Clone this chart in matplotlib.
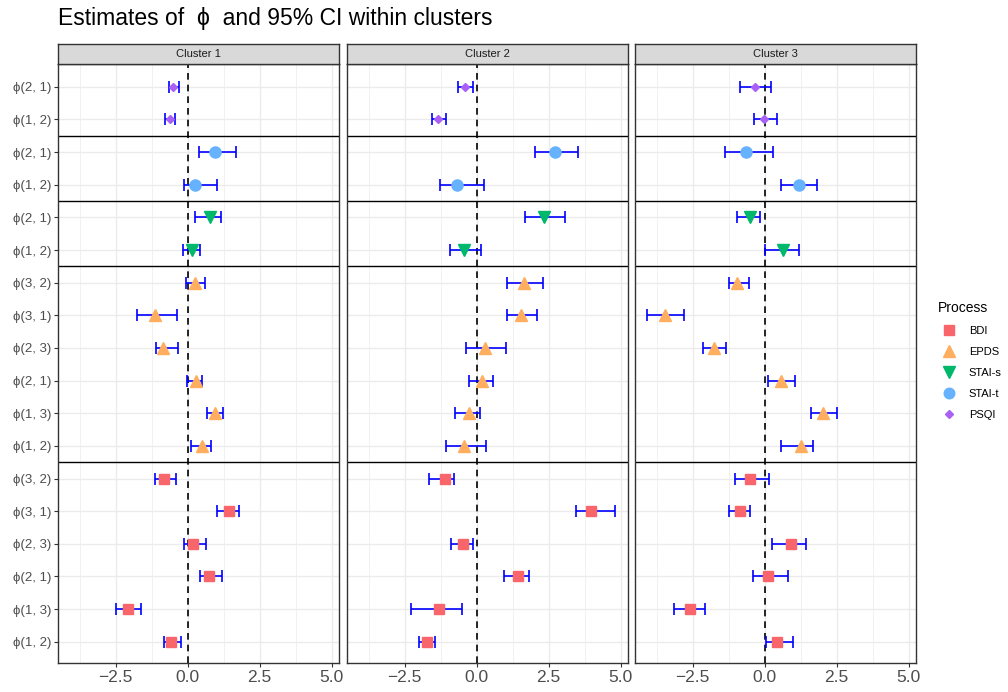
"""Forest plot of phi estimates with 95% CI, one panel per cluster."""
import numpy as np
import matplotlib
matplotlib.use("Agg")
import matplotlib.pyplot as plt
from matplotlib.lines import Line2D

plt.rcParams["font.family"] = ["Liberation Sans", "DejaVu Sans"]

CLUSTERS = ["Cluster 1", "Cluster 2", "Cluster 3"]
PROCESSES = ["BDI", "EPDS", "STAI-s", "STAI-t", "PSQI"]
COLORS = {"BDI": "#F8666B", "EPDS": "#FFAE5F", "STAI-s": "#00B86B",
          "STAI-t": "#66B2FF", "PSQI": "#AA60F5"}
MARKERS = {"BDI": ("s", 7.5), "EPDS": ("^", 8.5), "STAI-s": ("v", 8.5),
           "STAI-t": ("o", 8), "PSQI": ("D", 4.5)}

# row labels, bottom to top, per process
LABELS6 = ["ϕ(1, 2)", "ϕ(1, 3)", "ϕ(2, 1)", "ϕ(2, 3)", "ϕ(3, 1)", "ϕ(3, 2)"]
LABELS2 = ["ϕ(1, 2)", "ϕ(2, 1)"]
ROW_PROC = ["BDI"] * 6 + ["EPDS"] * 6 + ["STAI-s"] * 2 + ["STAI-t"] * 2 + ["PSQI"] * 2
ROW_LABELS = LABELS6 + LABELS6 + LABELS2 + LABELS2 + LABELS2

# estimates / lower / upper, same row order as ROW_LABELS
est_c1 = [-0.57, -2.06, 0.75, 0.20, 1.45, -0.81,
          0.49, 0.95, 0.30, -0.85, -1.15, 0.26,
          0.15, 0.79, 0.26, 0.96, -0.61, -0.50]
lo_c1 = [-0.81, -2.49, 0.41, -0.14, 1.00, -1.13,
         0.13, 0.67, -0.02, -1.09, -1.76, -0.07,
         -0.16, 0.24, -0.13, 0.40, -0.78, -0.64]
hi_c1 = [-0.23, -1.62, 1.20, 0.64, 1.78, -0.40,
         0.82, 1.22, 0.51, -0.33, -0.36, 0.59,
         0.42, 1.14, 1.01, 1.67, -0.43, -0.29]

est_c2 = [-1.72, -1.31, 1.42, -0.47, 3.96, -1.10,
          -0.44, -0.25, 0.17, 0.28, 1.55, 1.63,
          -0.44, 2.33, -0.67, 2.73, -1.33, -0.41]
lo_c2 = [-2.01, -2.29, 0.94, -0.89, 3.44, -1.64,
         -1.08, -0.76, -0.25, -0.36, 1.04, 1.05,
         -0.93, 1.68, -1.27, 2.01, -1.56, -0.66]
hi_c2 = [-1.44, -0.50, 1.81, -0.13, 4.81, -0.78,
         0.32, 0.12, 0.58, 1.02, 2.09, 2.30,
         0.16, 3.06, 0.25, 3.52, -1.05, -0.12]

est_c3 = [0.44, -2.58, 0.13, 0.93, -0.84, -0.50,
          1.27, 2.03, 0.57, -1.76, -3.45, -0.97,
          0.64, -0.52, 1.19, -0.65, -0.02, -0.34]
lo_c3 = [0.05, -3.14, -0.39, 0.25, -1.24, -1.02,
         0.57, 1.61, 0.12, -2.13, -4.09, -1.23,
         0.02, -0.96, 0.58, -1.38, -0.38, -0.84]
hi_c3 = [0.97, -2.06, 0.82, 1.45, -0.50, 0.14,
         1.68, 2.50, 1.04, -1.34, -2.81, -0.54,
         1.19, -0.15, 1.81, 0.28, 0.43, 0.22]

DATA = [(est_c1, lo_c1, hi_c1), (est_c2, lo_c2, hi_c2), (est_c3, lo_c3, hi_c3)]
GROUP_BREAKS = [6.5, 12.5, 14.5, 16.5]

fig = plt.figure(figsize=(10.08, 6.92), dpi=100)
W, H = 1008, 692
lefts = [58, 347, 635]
pw, ptop, pbot, strip_h = 281, 64, 663, 20

y = np.arange(1, len(ROW_LABELS) + 1)
grey_txt = "#4D4D4D"
for k, (name, (est, lo, hi)) in enumerate(zip(CLUSTERS, DATA)):
    ax = fig.add_axes([lefts[k] / W, 1 - pbot / H, pw / W, (pbot - ptop) / H])
    ax.set_xlim(-4.5, 5.25)
    ax.set_ylim(0.35, len(ROW_LABELS) + 0.7)
    ax.set_xticks([-2.5, 0, 2.5, 5.0])
    ax.set_xticklabels(["−2.5", "0.0", "2.5", "5.0"], fontsize=12.5, color=grey_txt)
    ax.set_xticks([-3.75, -1.25, 1.25, 3.75], minor=True)
    ax.set_yticks(y)
    ax.tick_params(axis="both", which="major", length=3, color="#333333", pad=2)
    if k == 0:
        ax.set_yticklabels(ROW_LABELS, fontsize=9.5, color=grey_txt)
    else:
        ax.set_yticklabels([])
        ax.tick_params(axis="y", length=0)
    ax.tick_params(axis="x", which="minor", length=0)
    ax.grid(True, which="major", color="#EBEBEB", lw=1.0)
    ax.grid(True, which="minor", axis="x", color="#EBEBEB", lw=0.5)
    ax.set_axisbelow(True)
    for s in ax.spines.values():
        s.set_color("#333333")
        s.set_linewidth(1.0)

    for b in GROUP_BREAKS:
        ax.axhline(b, color="black", lw=1.0, zorder=2)
    ax.axvline(0, color="black", ls=(0, (4, 3)), lw=1.2, zorder=2)

    for i in range(len(y)):
        p = ROW_PROC[i]
        ax.errorbar(est[i], y[i], xerr=[[est[i] - lo[i]], [hi[i] - est[i]]],
                    fmt="none", ecolor="blue", elinewidth=1.2, capsize=4.5,
                    capthick=1.2, zorder=3)
        m, ms = MARKERS[p]
        ax.plot(est[i], y[i], marker=m, ms=ms, color=COLORS[p], mec=COLORS[p],
                ls="none", zorder=4)

    # facet strip
    sax = fig.add_axes([lefts[k] / W, 1 - ptop / H, pw / W, strip_h / H])
    sax.set_facecolor("#D9D9D9")
    sax.set_xticks([])
    sax.set_yticks([])
    for s in sax.spines.values():
        s.set_color("#333333")
        s.set_linewidth(1.0)
    sax.text(0.5, 0.5, name, ha="center", va="center", fontsize=8, color="#1A1A1A",
             transform=sax.transAxes)

fig.text(58 / W, 1 - 19 / H, "Estimates of  ϕ  and 95% CI within clusters",
         fontsize=16.5, va="center", ha="left", color="black")

handles = [Line2D([], [], marker=MARKERS[p][0], ms=MARKERS[p][1] * 0.95,
                  color=COLORS[p], ls="none") for p in PROCESSES]
leg = fig.legend(handles, PROCESSES, title="Process", loc="upper left",
                 bbox_to_anchor=(930 / W, 1 - 293 / H), frameon=False,
                 fontsize=8, title_fontsize=10, handletextpad=0.8,
                 labelspacing=1.0, borderpad=0.2)
leg._legend_box.align = "left"

fig.savefig("out.png", dpi=100)
